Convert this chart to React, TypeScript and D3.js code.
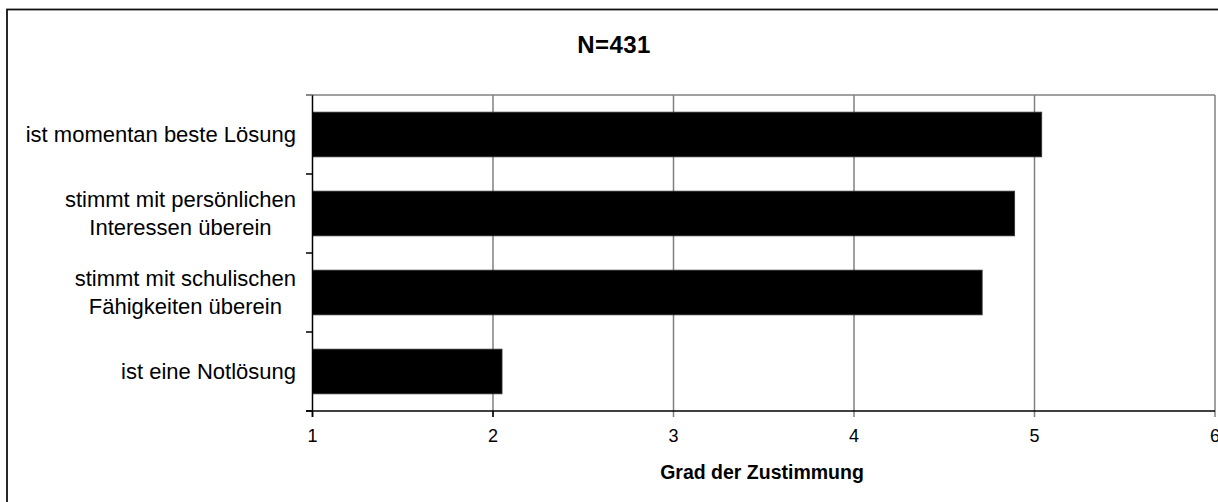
import React from "react";
import * as d3 from "d3";

const categories: string[][] = [
  ["ist momentan beste Lösung"],
  ["stimmt mit persönlichen", "Interessen überein"],
  ["stimmt mit schulischen", "Fähigkeiten überein"],
  ["ist eine Notlösung"],
];
const values: number[] = [5.04, 4.89, 4.71, 2.05];
const xTicks: number[] = [1, 2, 3, 4, 5, 6];
const title = "N=431";
const xTitle = "Grad der Zustimmung";

const W = 1218;
const H = 502;
const FONT = "'Liberation Sans', Arial, Helvetica, sans-serif";

function measure(text: string, font: string): number {
  const c = document.createElement("canvas").getContext("2d");
  if (!c) return text.length * 10;
  c.font = font;
  return c.measureText(text).width;
}

export default function App() {
  const left = 312.5;
  const right = 1215;
  const top = 95;
  const bottom = 411;
  const x = d3.scaleLinear().domain([1, 6]).range([left, right]);
  const keys = categories.map((c) => c.join(" "));
  const y = d3
    .scaleBand<string>()
    .domain(keys)
    .range([top, bottom])
    .paddingInner(0.434)
    .paddingOuter(0.217);
  const step = y.step();
  const labelRight = 296;
  const labelSize = 22;
  const labelFont = `${labelSize}px ${FONT}`;
  const lineH = 28;

  return (
    <svg
      width={W}
      height={H}
      style={{ position: "absolute", left: 0, top: 0, background: "#fff" }}
      fontFamily={FONT}
    >
      <rect x={7} y={9.5} width={W + 10} height={H + 10} fill="#fff" stroke="#111" strokeWidth={1.8} />
      <text x={614} y={53} textAnchor="middle" fontSize={24} fontWeight="bold" letterSpacing={0.4}>
        {title}
      </text>
      {/* top border of plot area */}
      <line x1={306} x2={right} y1={top} y2={top} stroke="#808080" strokeWidth={1.5} />
      {/* vertical grid lines */}
      {xTicks.slice(1).map((t) => (
        <line key={"g" + t} x1={x(t)} x2={x(t)} y1={top} y2={bottom + 6} stroke="#808080" strokeWidth={1.5} />
      ))}
      {/* bars */}
      {keys.map((k, i) => (
        <rect
          key={k}
          x={x(1)}
          y={y(k)}
          width={x(values[i]) - x(1)}
          height={y.bandwidth()}
          fill="#000"
          stroke="#333"
          strokeWidth={0.8}
        />
      ))}
      {/* y axis */}
      <line x1={left} x2={left} y1={top} y2={bottom + 6} stroke="#000" strokeWidth={1.5} />
      {d3.range(keys.length + 1).map((i) => (
        <line
          key={"yt" + i}
          x1={306}
          x2={left}
          y1={top + step * i}
          y2={top + step * i}
          stroke={i === 0 ? "#808080" : "#000"}
          strokeWidth={1.5}
        />
      ))}
      {/* x axis */}
      <line x1={306} x2={right} y1={bottom} y2={bottom} stroke="#000" strokeWidth={1.5} />
      {xTicks.slice(0, 2).map((t) => (
        <line key={"xt" + t} x1={x(t)} x2={x(t)} y1={bottom} y2={bottom + 6} stroke="#000" strokeWidth={1.5} />
      ))}
      {xTicks.map((t) => (
        <text key={"xl" + t} x={x(t)} y={442} textAnchor="middle" fontSize={18}>
          {t}
        </text>
      ))}
      <text x={762} y={479} textAnchor="middle" fontSize={19.5} fontWeight="bold">
        {xTitle}
      </text>
      {/* category labels */}
      {categories.map((lines, i) => {
        const cy = (y(keys[i]) as number) + y.bandwidth() / 2;
        const maxW = Math.max(...lines.map((l) => measure(l, labelFont)));
        const cx = labelRight - maxW / 2;
        return lines.map((l, j) => (
          <text
            key={keys[i] + j}
            x={cx}
            y={cy + 7 + (j - (lines.length - 1) / 2) * lineH}
            textAnchor="middle"
            fontSize={labelSize}
          >
            {l}
          </text>
        ));
      })}
    </svg>
  );
}
